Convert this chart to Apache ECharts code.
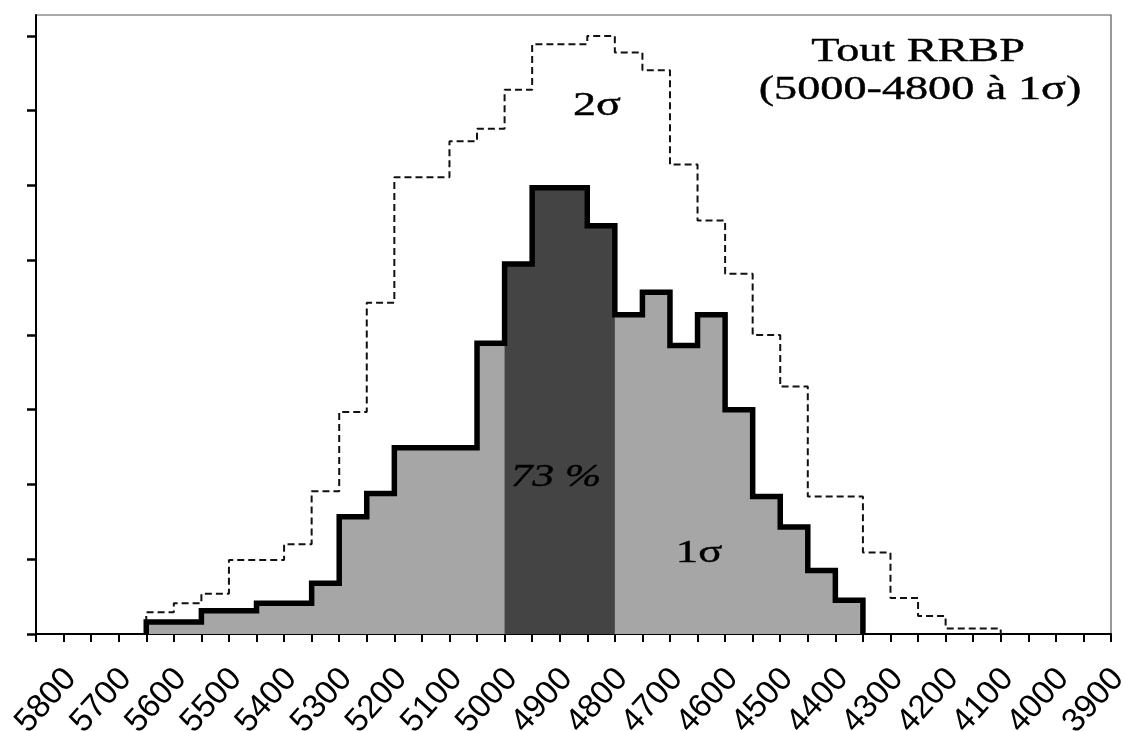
<!DOCTYPE html>
<html>
<head>
<meta charset="utf-8">
<script src="https://cdn.jsdelivr.net/npm/echarts@6/dist/echarts.min.js"></script>
<style>
  html, body { margin: 0; padding: 0; background: #ffffff; }
  #chart { width: 1124px; height: 731px; }
</style>
</head>
<body>
<div id="chart"></div>
<script>
// 50-year bin edges (cal. BP), oldest first
const binEdges = [5650, 5600, 5550, 5500, 5450, 5400, 5350, 5300, 5250, 5200, 5150,
                  5100, 5050, 5000, 4950, 4900, 4850, 4800, 4750, 4700, 4650, 4600,
                  4550, 4500, 4450, 4400, 4350, 4300, 4250, 4200, 4150, 4100];

// Summed probability per bin at 1 sigma (starts at the first edge)
const oneSigma = [0.16, 0.16, 0.31, 0.31, 0.41, 0.41, 0.68, 1.57, 1.88, 2.49, 2.49,
                  2.49, 3.89, 4.95, 5.97, 5.97, 5.46, 4.27, 4.57, 3.86, 4.27, 3.0,
                  1.84, 1.43, 0.85, 0.45];

// Summed probability per bin at 2 sigma
const twoSigma = [0.29, 0.41, 0.54, 0.99, 0.99, 1.2, 1.91, 2.97, 4.43, 6.11, 6.11,
                  6.59, 6.76, 7.28, 7.89, 7.89, 8.0, 7.78, 7.54, 6.28, 5.53, 4.82,
                  4.0, 3.31, 1.84, 1.84, 1.09, 0.48, 0.24, 0.075, 0.075];

// Highlighted core interval
const coreFrom = 5000;
const coreTo = 4800;

// Axis ticks and labels
const xTickValues = [5850, 5800, 5750, 5700, 5650, 5600, 5550, 5500, 5450, 5400, 5350,
                     5300, 5250, 5200, 5150, 5100, 5050, 5000, 4950, 4900, 4850, 4800,
                     4750, 4700, 4650, 4600, 4550, 4500, 4450, 4400, 4350, 4300, 4250,
                     4200, 4150, 4100, 4050, 4000, 3950, 3900];
const xLabelValues = [5800, 5700, 5600, 5500, 5400, 5300, 5200, 5100, 5000, 4900, 4800,
                      4700, 4600, 4500, 4400, 4300, 4200, 4100, 4000, 3900];
const yTickValues = [0, 1, 2, 3, 4, 5, 6, 7, 8];

// Turn per-bin heights into a closed step outline, optionally limited to a range
function stepOutline(values, from, to) {
  const pts = [];
  for (let i = 0; i < values.length; i++) {
    const a = binEdges[i], b = binEdges[i + 1];
    if (from !== undefined && (a > from || b < to)) continue;
    pts.push([a, values[i]], [b, values[i]]);
  }
  pts.unshift([pts[0][0], 0]);
  pts.push([pts[pts.length - 1][0], 0]);
  return pts;
}

const chart = echarts.init(document.getElementById('chart'), null, { renderer: 'canvas' });

const serif = '"Liberation Serif", "Times New Roman", serif';

// Annotation text, widened horizontally
function stretchedText(text, x, y, size, italic) {
  return {
    type: 'text',
    x: x,
    y: y,
    scaleX: 1.4,
    z: 100,
    style: {
      text: text,
      font: (italic ? 'italic ' : '') + size + 'px ' + serif,
      fill: '#000',
      stroke: '#000',
      lineWidth: 0.4,
      textAlign: 'center',
      textVerticalAlign: 'middle'
    }
  };
}

chart.setOption({
  animation: false,
  backgroundColor: '#ffffff',
  grid: {
    left: 36, right: 13, top: 15, bottom: 97,
    show: true,
    borderColor: '#555',
    borderWidth: 1.2,
    containLabel: false,
    outerBoundsMode: 'none'
  },
  xAxis: {
    type: 'value',
    inverse: true,
    min: 3900,
    max: 5850,
    axisLine: { show: true, onZero: false, lineStyle: { color: '#000', width: 2 } },
    axisTick: {
      show: true,
      customValues: xTickValues,
      length: 8,
      lineStyle: { color: '#000', width: 2 }
    },
    axisLabel: {
      customValues: xLabelValues,
      formatter: function (v) { return String(v); },
      rotate: 48,
      margin: 33,
      align: 'right',
      verticalAlign: 'top',
      lineHeight: 19,
      fontSize: 33,
      fontFamily: '"Liberation Sans", Arial, sans-serif',
      color: '#000'
    },
    splitLine: { show: false }
  },
  yAxis: {
    type: 'value',
    min: 0,
    max: 8.28,
    axisLine: { show: true, lineStyle: { color: '#000', width: 2 } },
    axisTick: {
      show: true,
      customValues: yTickValues,
      length: 9,
      lineStyle: { color: '#000', width: 2.5 }
    },
    axisLabel: { show: false },
    splitLine: { show: false }
  },
  series: [
    {
      name: '1σ fill',
      type: 'line',
      data: stepOutline(oneSigma),
      symbol: 'none',
      lineStyle: { width: 0 },
      areaStyle: { color: '#a6a6a6', opacity: 1 },
      z: 1,
      silent: true
    },
    {
      name: 'core fill',
      type: 'line',
      data: stepOutline(oneSigma, coreFrom, coreTo),
      symbol: 'none',
      lineStyle: { width: 0 },
      areaStyle: { color: '#444444', opacity: 1 },
      z: 2,
      silent: true
    },
    {
      name: '2σ',
      type: 'line',
      data: stepOutline(twoSigma),
      symbol: 'none',
      lineStyle: { color: '#111', width: 2, type: [7, 4] },
      z: 3,
      silent: true
    },
    {
      name: '1σ',
      type: 'line',
      data: stepOutline(oneSigma),
      symbol: 'none',
      lineStyle: { color: '#000', width: 5.5, join: 'miter' },
      z: 4,
      silent: true
    }
  ],
  graphic: [
    stretchedText('Tout RRBP', 918, 52, 33, false),
    stretchedText('(5000-4800 à 1σ)', 920, 90, 33, false),
    stretchedText('2σ', 597, 106, 33, false),
    stretchedText('73 %', 556, 478, 31, true),
    stretchedText('1σ', 699, 554, 32, false)
  ]
});
</script>
</body>
</html>
